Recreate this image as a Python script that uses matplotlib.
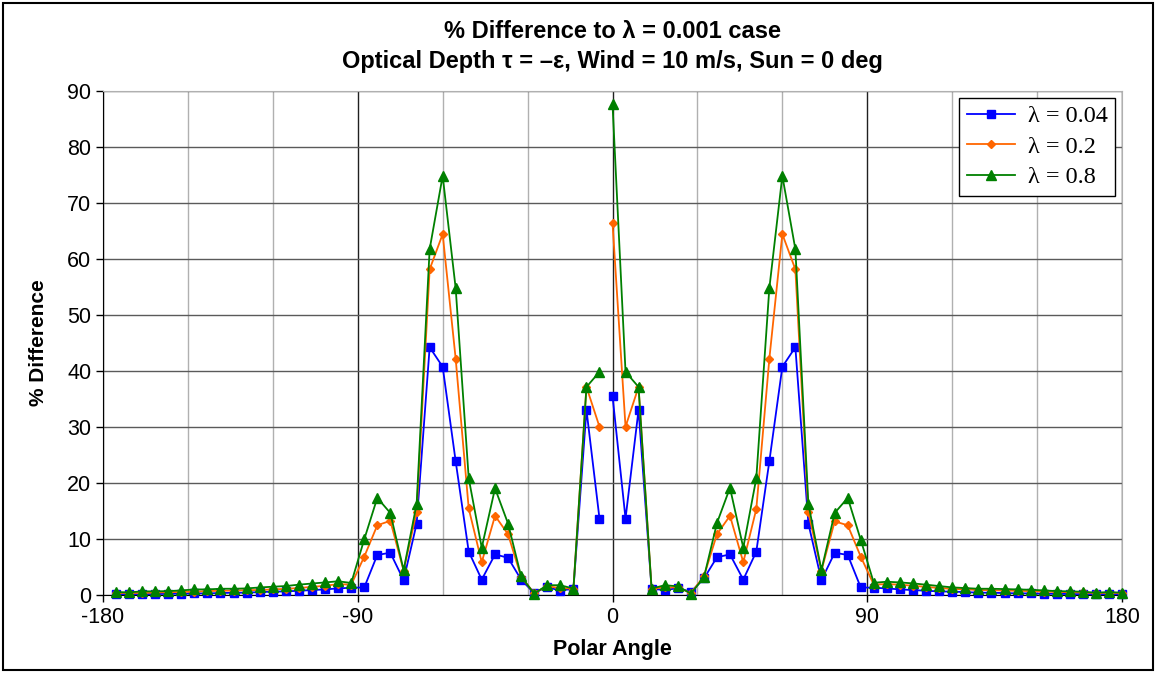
import numpy as np
import matplotlib
matplotlib.use("Agg")
import matplotlib.pyplot as plt
from matplotlib.patches import Rectangle

plt.rcParams["axes.unicode_minus"] = False

# polar angles of the data points (left half stops short of 0, gap before 0)
left_angles = [-175.4, -170.8, -166.2, -161.5, -156.9, -152.3, -147.7, -143.1, -138.5, -133.8,
               -129.2, -124.6, -120.0, -115.4, -110.8, -106.2, -101.5, -96.9, -92.3,
               -87.7, -83.1, -78.5, -73.8, -69.2, -64.6, -60.0, -55.4, -50.8, -46.2,
               -41.5, -36.9, -32.3, -27.7, -23.1, -18.5, -13.8, -9.2, -4.6]
right_angles = [0.0, 4.6, 9.2, 13.8, 18.5, 23.1, 27.7, 32.3, 36.9, 41.5,
                46.2, 50.8, 55.4, 60.0, 64.6, 69.2, 73.8, 78.5, 83.1, 87.7,
                92.3, 96.9, 101.5, 106.2, 110.8, 115.4, 120.0, 124.6, 129.2, 133.8,
                138.5, 143.1, 147.7, 152.3, 156.9, 161.5, 166.2, 170.8, 175.4, 180.0]

blue_left = [0.12, 0.12, 0.12, 0.12, 0.18, 0.18, 0.24, 0.24, 0.3, 0.36,
             0.36, 0.48, 0.54, 0.6, 0.71, 0.83, 0.95, 1.13, 1.25,
             1.3, 7.1, 7.5, 2.6, 12.7, 44.2, 40.7, 23.8, 7.7, 2.7,
             7.2, 6.6, 2.7, 0.3, 1.4, 0.7, 1.1, 33.0, 13.6]
blue_right = [35.5, 13.6, 33.0, 1.1, 0.8, 1.2, 0.5, 2.9, 6.7, 7.2,
              2.7, 7.7, 23.8, 40.7, 44.2, 12.7, 2.6, 7.5, 7.1, 1.3,
              1.25, 1.13, 0.95, 0.83, 0.71, 0.6, 0.54, 0.48, 0.36, 0.36,
              0.3, 0.24, 0.24, 0.18, 0.18, 0.12, 0.12, 0.12, 0.12, 0.12]

orange_left = [0.3, 0.35, 0.3, 0.4, 0.45, 0.5, 0.55, 0.65, 0.7, 0.75,
               0.8, 0.85, 0.95, 1.05, 1.2, 1.4, 1.6, 1.9, 1.8,
               6.8, 12.4, 13.2, 4.3, 14.8, 58.1, 64.4, 42.1, 15.4, 5.8,
               14.1, 10.8, 3.2, 0.3, 1.5, 1.2, 1.1, 37.1, 30.0]
orange_right = [66.4, 30.0, 37.1, 1.1, 1.3, 1.3, 0.3, 3.3, 10.8, 14.1,
                5.8, 15.3, 42.1, 64.4, 58.1, 14.7, 4.3, 13.1, 12.4, 6.8,
                1.8, 1.9, 1.8, 1.6, 1.4, 1.2, 1.05, 0.95, 0.85, 0.8,
                0.75, 0.7, 0.65, 0.55, 0.5, 0.45, 0.4, 0.3, 0.35, 0.3]

green_left = [0.48, 0.42, 0.6, 0.6, 0.65, 0.77, 0.95, 0.95, 1.07, 1.07,
              1.13, 1.3, 1.43, 1.55, 1.8, 2.0, 2.2, 2.4, 2.1,
              9.9, 17.3, 14.6, 4.4, 16.2, 61.7, 74.8, 54.7, 20.8, 8.4,
              19.0, 12.7, 3.3, 0.2, 1.7, 1.7, 1.1, 37.1, 39.8]
green_right = [87.6, 39.8, 37.1, 1.1, 1.7, 1.5, 0.2, 3.1, 12.8, 19.1,
               8.4, 20.8, 54.7, 74.8, 61.7, 16.2, 4.4, 14.6, 17.3, 9.8,
               2.14, 2.32, 2.2, 2.02, 1.79, 1.55, 1.31, 1.19, 1.07, 1.07,
               1.01, 0.95, 0.89, 0.77, 0.65, 0.6, 0.54, 0.36, 0.48, 0.36]

labels = ["λ = 0.04", "λ = 0.2", "λ = 0.8"]
colors = ["#0000FF", "#FF6600", "#008000"]
markers = ["s", "D", "^"]
msizes = [6, 4.5, 6.5]

fig = plt.figure(figsize=(11.56, 6.73), dpi=100)
ax = fig.add_axes([0.0891, 0.1163, 0.8815, 0.7489])

# join the halves with a NaN so the line breaks just left of 0
x = np.array(left_angles + [np.nan] + right_angles)
series = [blue_left + [np.nan] + blue_right,
          orange_left + [np.nan] + orange_right,
          green_left + [np.nan] + green_right]

for y, lab, c, m, ms in zip(series, labels, colors, markers, msizes):
    ax.plot(x, y, color=c, lw=1.3, marker=m, ms=ms, mfc=c, mec=c, label=lab,
            clip_on=False, zorder=3)

ax.set_xlim(-180, 180)
ax.set_ylim(0, 90)
ax.set_xticks([-180, -90, 0, 90, 180])
ax.set_xticks(np.arange(-150, 180, 30), minor=True)
ax.set_yticks(np.arange(0, 91, 10))

ax.grid(axis="y", color="#5a5a5a", lw=1.0)
ax.grid(axis="x", which="minor", color="#b0b0b0", lw=1.0)
ax.grid(axis="x", which="major", color="#202020", lw=1.0)
ax.set_axisbelow(True)

for s in ["top", "right"]:
    ax.spines[s].set_color("#b0b0b0")
for s in ["left", "bottom"]:
    ax.spines[s].set_color("black")

ax.tick_params(axis="both", which="major", direction="out", length=5, width=1,
               labelsize=15.5, colors="black")
ax.tick_params(axis="x", which="minor", length=0)
for t in ax.get_xticklabels() + ax.get_yticklabels():
    t.set_fontfamily("Liberation Sans")

ax.set_xlabel("Polar Angle", fontsize=15.5, fontweight="bold", family="Liberation Sans", labelpad=8)
ax.set_ylabel("% Difference", fontsize=15, fontweight="bold", family="Liberation Sans", labelpad=14)
ax.set_title("% Difference to λ = 0.001 case\nOptical Depth τ = –ε, Wind = 10 m/s, Sun = 0 deg",
             fontsize=17, fontweight="bold", family="Liberation Sans", linespacing=1.4, pad=16)

leg = ax.legend(loc="upper right", prop={"family": "Liberation Serif", "size": 17.5},
                frameon=True, fancybox=False, framealpha=1, edgecolor="black",
                borderaxespad=0.3, handlelength=2.0, handletextpad=0.5,
                labelspacing=0.35, borderpad=0.3)
leg.get_frame().set_linewidth(1.0)

fig.patches.append(Rectangle((0.003, 0.004), 0.994, 0.992, transform=fig.transFigure,
                             fill=False, edgecolor="black", lw=1.5))

fig.savefig("out.png", dpi=100)
